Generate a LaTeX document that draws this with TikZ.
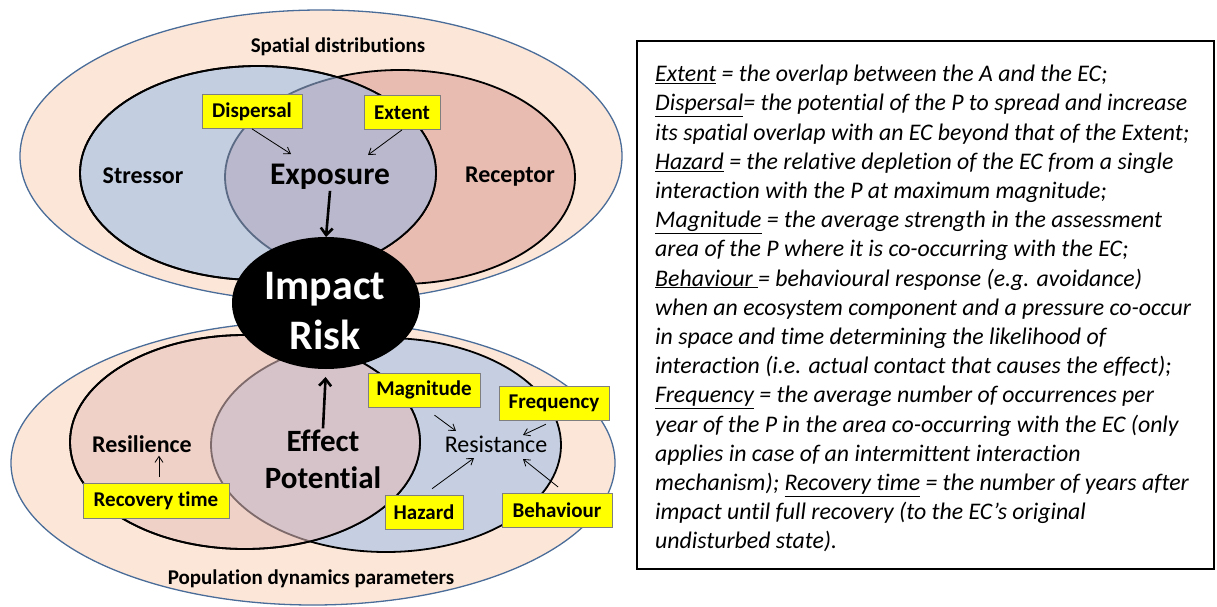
\documentclass[tikz,border=0pt]{standalone}
\usepackage{fontspec}
\setmainfont{Carlito}[Ligatures=CommonOff]
\usetikzlibrary{shapes.geometric,arrows.meta,calc}
\definecolor{peach}{HTML}{FCE6D8}
\definecolor{outerblue}{HTML}{4A6C98}
\definecolor{stressorblue}{HTML}{C4CEE1}
\definecolor{receptorsalmon}{HTML}{E8BCB1}
\definecolor{topoverlap}{HTML}{BAB8CC}
\definecolor{toparc}{HTML}{5C6B85}
\definecolor{botleft}{HTML}{F0D1C7}
\definecolor{botright}{HTML}{C5CFE1}
\definecolor{botoverlap}{HTML}{D6C3CA}
\definecolor{botarc}{HTML}{7E6A6A}
\definecolor{labelyellow}{HTML}{FFFF00}
\definecolor{boxedge}{HTML}{7F7F7F}
\begin{document}
\begin{tikzpicture}[x=1pt,y=-1pt,
  ell/.style={ellipse, inner sep=0pt, outer sep=0pt},
  outerell/.style={ell, draw=outerblue, line width=1.3pt, fill=peach},
  innerell/.style={ell, draw=black, line width=1.8pt},
  ybox/.style={rectangle, fill=labelyellow, draw=boxedge, line width=0.8pt, inner sep=0pt,
    font=\bfseries\fontsize{21}{24}\selectfont},
  plainlbl/.style={inner sep=0pt, font=\bfseries\fontsize{24}{28}\selectfont},
  grouplbl/.style={inner sep=0pt, font=\bfseries\fontsize{21}{24}\selectfont},
  thinarrow/.style={draw=black, line width=0.8pt, -{Straight Barb[length=6pt,width=8pt]}},
  thickarrow/.style={draw=black, line width=2.6pt, -{Straight Barb[length=7pt,width=12pt]}}
]
\useasboundingbox (0,0) rectangle (1217,607);

% ---------- top group ----------
\node[outerell, minimum width=602pt, minimum height=292pt] (topouter) at (321,156) {};
\node[innerell, fill=receptorsalmon, minimum width=350pt, minimum height=214pt] (receptor) at (400,177) {};
\node[innerell, fill=stressorblue, minimum width=356pt, minimum height=214pt] (stressor) at (258,173) {};
\begin{scope}
  \clip (stressor.center) ellipse [x radius=178pt, y radius=107pt];
  \fill[topoverlap] (receptor.center) ellipse [x radius=175pt, y radius=107pt];
  \draw[toparc, line width=1.8pt] (receptor.center) ellipse [x radius=175pt, y radius=107pt];
\end{scope}
\draw[black, line width=1.8pt] (stressor.center) ellipse [x radius=178pt, y radius=107pt];

% ---------- bottom group ----------
\node[outerell, minimum width=604pt, minimum height=284pt] (botouter) at (313,463) {};
\node[innerell, fill=botright, minimum width=350pt, minimum height=214pt] (resistell) at (386,445) {};
\node[innerell, fill=botleft, minimum width=350pt, minimum height=214pt] (resilell) at (245,442) {};
\begin{scope}
  \clip (resilell.center) ellipse [x radius=175pt, y radius=107pt];
  \fill[botoverlap] (resistell.center) ellipse [x radius=175pt, y radius=107pt];
  \draw[botarc, line width=1.8pt] (resistell.center) ellipse [x radius=175pt, y radius=107pt];
\end{scope}
\draw[black, line width=1.8pt] (resilell.center) ellipse [x radius=175pt, y radius=107pt];

% ---------- impact risk ----------
\node[ell, fill=black, minimum width=188pt, minimum height=132pt] (impact) at (326,303) {};
\node[align=center, text=white, inner sep=0pt, font=\bfseries\fontsize{42}{50}\selectfont] (impacttxt) at (325,311) {Impact\\Risk};

% ---------- top labels ----------
\node[grouplbl] (spatial) at (338,47) {Spatial distributions};
\node[plainlbl] (stresslbl) at (143,176) {Stressor};
\node[plainlbl] (receplbl) at (510,177) {Receptor};
\node[inner sep=1pt, font=\bfseries\fontsize{31.5}{36}\selectfont] (expo) at (330,177) {Exposure};
\node[ybox, minimum width=100pt, minimum height=34pt] (disp) at (252,111.5) {Dispersal};
\node[ybox, minimum width=76pt, minimum height=34pt] (ext) at (402,112.5) {Extent};
\coordinate (dispend) at (291,154);
\coordinate (extend) at (368,155);
\draw[thinarrow] (disp.south) -- (dispend);
\draw[thinarrow] (ext.south) -- (extend);
\draw[thickarrow] (expo.south) -- (impact.north);

% ---------- bottom labels ----------
\node[grouplbl] (popdyn) at (311,579) {Population dynamics parameters};
\node[plainlbl] (resil) at (142,444) {Resilience};
\node[inner sep=0pt, font=\fontsize{24}{28}\selectfont] (resist) at (496,444) {Resistance};
\node[align=center, inner sep=1pt, font=\bfseries\fontsize{31}{37}\selectfont] (effect) at (323,459) {Effect\\Potential};
\node[ybox, minimum width=146pt, minimum height=35pt] (rec) at (156,501) {Recovery time};
\node[ybox, minimum width=112pt, minimum height=34pt] (mag) at (424,390) {Magnitude};
\node[ybox, minimum width=110pt, minimum height=34pt] (freq) at (554,403) {Frequency};
\node[ybox, minimum width=78pt, minimum height=34pt] (haz) at (424,512) {Hazard};
\node[ybox, minimum width=110pt, minimum height=34pt] (beh) at (557,510) {Behaviour};
\coordinate (magend) at (456,431);
\coordinate (freqend) at (523,435);
\coordinate (hazend) at (474,458);
\coordinate (behend) at (523,459);
\draw[thinarrow, shorten <=13pt] (mag.south) -- (magend);
\draw[thinarrow, shorten <=9pt] (freq.south) -- (freqend);
\draw[thinarrow, shorten <=10pt] (haz.north) -- (hazend);
\draw[thinarrow, shorten <=9pt] (beh.65) -- (behend);
\draw[thinarrow, shorten <=6pt, shorten >=3pt] ([xshift=3pt]rec.north) -- ([xshift=3pt]rec.north |- resil.south);
\draw[thickarrow, shorten >=8pt] (effect.north) -- (impact.south);

% ---------- definitions box ----------
\node[draw=black, line width=1.6pt, anchor=north west, minimum width=577pt, minimum height=528pt, inner sep=0pt] (defbox) at (636,40) {};
\node[anchor=north west, align=left, inner sep=0pt, font=\itshape\fontsize{23.8}{29.2}\selectfont] (deftext) at (655,65) {%
\underline{Extent} = the overlap between the A and the EC;\\
\underline{Dispersal}= the potential of the P to spread and increase\\
its spatial overlap with an EC beyond that of the Extent;\\
\underline{Hazard} = the relative depletion of the EC from a single\\
interaction with the P at maximum magnitude;\\
\underline{Magnitude} = the average strength in the assessment\\
area of the P where it is co-occurring with the EC;\\
\underline{Behaviour\ }= behavioural response (e.g. avoidance)\\
when an ecosystem component and a pressure co-occur\\
in space and time determining the likelihood of\\
interaction (i.e. actual contact that causes the effect);\\
\underline{Frequency} = the average number of occurrences per\\
year of the P in the area co-occurring with the EC (only\\
applies in case of an intermittent interaction\\
mechanism); \underline{Recovery time} = the number of years after\\
impact until full recovery (to the EC’s original\\
undisturbed state).};
\end{tikzpicture}
\end{document}
